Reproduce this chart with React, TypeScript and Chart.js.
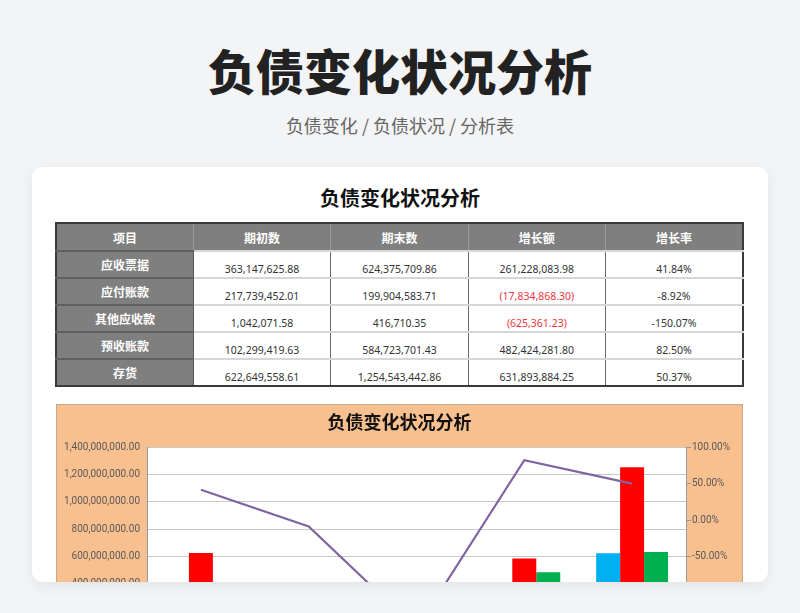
import React, { useEffect, useRef } from "react";
import { Chart, registerables } from "chart.js";

Chart.register(...registerables);

// data
const categories = ["应收票据", "应付账款", "其他应收款", "预收账款", "存货"];
const openingValues = [363147625.88, 217739452.01, 1042071.58, 102299419.63, 622649558.61];
const closingValues = [624375709.86, 199904583.71, 416710.35, 584723701.43, 1254543442.86];
const changeValues = [261228083.98, -17834868.3, -625361.23, 482424281.8, 631893884.25];
const changeRates = [41.84, -8.92, -150.07, 82.5, 50.37];
const tableHeaders = ["项目", "期初数", "期末数", "增长额", "增长率"];
const leftTicks = { min: -200000000, max: 1400000000, step: 200000000 };
const rightTicks = { min: -200, max: 100, step: 50 };

const CJK = "'Noto Sans CJK SC', 'Noto Sans', sans-serif";
const NUM = "'Noto Sans', 'Noto Sans CJK SC', sans-serif";
const TICK_FONT = "Roboto, 'Noto Sans', sans-serif";

const money = (v: number) =>
  Math.abs(v).toLocaleString("en-US", { minimumFractionDigits: 2, maximumFractionDigits: 2 });

const plotBackground = {
  id: "plotBackground",
  beforeDraw(chart: Chart) {
    const { ctx, chartArea } = chart;
    ctx.save();
    ctx.fillStyle = "#ffffff";
    ctx.fillRect(chartArea.left, chartArea.top, chartArea.width, chartArea.height);
    ctx.restore();
  },
};

const LiabilityChart: React.FC = () => {
  const canvasRef = useRef<HTMLCanvasElement | null>(null);
  const chartRef = useRef<Chart | null>(null);

  useEffect(() => {
    const ctx = canvasRef.current?.getContext("2d");
    if (!ctx) return;
    chartRef.current?.destroy();

    const tickFont = { family: TICK_FONT, size: 10 };

    chartRef.current = new Chart(ctx, {
      type: "bar",
      data: {
        labels: categories,
        datasets: [
          {
            type: "line",
            label: "增长率",
            data: changeRates,
            yAxisID: "y1",
            borderColor: "#8064A2",
            backgroundColor: "#8064A2",
            borderWidth: 2.2,
            pointRadius: 0,
            tension: 0,
            order: 0,
          },
          {
            label: "期初数",
            data: openingValues,
            backgroundColor: "#00B0F0",
            yAxisID: "y",
            order: 1,
          },
          {
            label: "期末数",
            data: closingValues,
            backgroundColor: "#FF0000",
            yAxisID: "y",
            order: 1,
          },
          {
            label: "增长额",
            data: changeValues,
            backgroundColor: "#00B050",
            yAxisID: "y",
            order: 1,
          },
        ],
      },
      options: {
        responsive: true,
        maintainAspectRatio: false,
        animation: false,
        datasets: {
          bar: { categoryPercentage: 0.667, barPercentage: 1 },
        },
        layout: { padding: { left: 0, right: 0, top: 0, bottom: 8 } },
        plugins: {
          legend: { display: false },
          tooltip: { enabled: false },
          title: {
            display: true,
            text: "负债变化状况分析",
            color: "#111111",
            font: { family: CJK, size: 18, weight: "bold" },
            padding: { top: 6, bottom: 15 },
          },
        },
        scales: {
          x: {
            grid: { display: false },
            border: { color: "#999999" },
            ticks: { font: tickFont, color: "#595959" },
            afterFit: (s: any) => {
              s.height = 30;
            },
          },
          y: {
            position: "left",
            min: leftTicks.min,
            max: leftTicks.max,
            grid: { color: "#c8c8c8", tickLength: 5 },
            border: { color: "#999999" },
            ticks: {
              stepSize: leftTicks.step,
              font: tickFont,
              color: "#595959",
              padding: 2,
              callback: (v: any) => (v < 0 ? "-" : "") + money(Number(v)),
            },
            afterFit: (s: any) => {
              s.width = 90;
            },
          },
          y1: {
            position: "right",
            min: rightTicks.min,
            max: rightTicks.max,
            grid: { drawOnChartArea: false, color: "#999999", tickLength: 5 },
            border: { color: "#999999" },
            ticks: {
              stepSize: rightTicks.step,
              font: tickFont,
              color: "#595959",
              padding: 1,
              callback: (v: any) => Number(v).toFixed(2) + "%",
            },
            afterFit: (s: any) => {
              s.width = 56;
            },
          },
        },
      },
      plugins: [plotBackground],
    });

    return () => {
      chartRef.current?.destroy();
      chartRef.current = null;
    };
  }, []);

  return (
    <div
      style={{
        position: "absolute",
        left: 24,
        top: 237,
        width: 687,
        height: 300,
        boxSizing: "border-box",
        background: "#F9C08F",
        border: "1px solid #c4a890",
      }}
    >
      <div style={{ position: "relative", width: "100%", height: "100%" }}>
        <canvas ref={canvasRef}></canvas>
      </div>
    </div>
  );
};

const headCell: React.CSSProperties = {
  background: "#7f7f7f",
  color: "#fff",
  fontWeight: 700,
  fontSize: 12,
  fontFamily: CJK,
  textAlign: "center",
  verticalAlign: "middle",
  height: 26,
  padding: 0,
  borderLeft: "1px solid #9a9a9a",
  borderBottom: "1px solid #555",
};

const labelCell: React.CSSProperties = {
  background: "#7f7f7f",
  color: "#fff",
  fontWeight: 700,
  fontSize: 12,
  fontFamily: CJK,
  textAlign: "center",
  verticalAlign: "middle",
  height: 25,
  padding: 0,
  borderTop: "2px solid #5f5f5f",
  borderRight: "1px solid #555",
};

const dataCell: React.CSSProperties = {
  color: "#333",
  fontSize: 10.5,
  fontFamily: NUM,
  textAlign: "center",
  verticalAlign: "bottom",
  padding: "0 0 1px 0",
  lineHeight: "14px",
  borderTop: "2px solid #d6d6d6",
  borderLeft: "1px solid #666",
};

const App: React.FC = () => {
  return (
    <div
      style={{
        position: "relative",
        width: 800,
        height: 613,
        overflow: "hidden",
        background: "#f3f4f6",
        fontFamily: CJK,
      }}
    >
      <style>{"body{margin:0;background:#f3f4f6;}"}</style>
      <div
        style={{
          position: "absolute",
          top: 45,
          width: "100%",
          textAlign: "center",
          fontSize: 48,
          lineHeight: "48px",
          fontWeight: 900,
          color: "#222",
        }}
      >
        负债变化状况分析
      </div>
      <div
        style={{
          position: "absolute",
          top: 116,
          width: "100%",
          textAlign: "center",
          fontSize: 18,
          lineHeight: "18px",
          color: "#666",
        }}
      >
        负债变化 / 负债状况 / 分析表
      </div>
      <div
        style={{
          position: "absolute",
          left: 32,
          top: 167,
          width: 736,
          height: 415,
          borderRadius: 10,
          background: "#fff",
          overflow: "hidden",
          boxShadow: "0 4px 14px rgba(0,0,0,0.07)",
        }}
      >
        <div
          style={{
            position: "absolute",
            top: 20,
            width: "100%",
            textAlign: "center",
            fontSize: 20,
            lineHeight: "22px",
            fontWeight: 700,
            color: "#111",
          }}
        >
          负债变化状况分析
        </div>
        <table
          style={{
            position: "absolute",
            left: 23,
            top: 55,
            width: 689,
            borderCollapse: "collapse",
            tableLayout: "fixed",
            border: "2px solid #3a3a3a",
          }}
        >
          <thead>
            <tr>
              {tableHeaders.map((h) => (
                <th key={h} style={headCell}>
                  {h}
                </th>
              ))}
            </tr>
          </thead>
          <tbody>
            {categories.map((c, i) => (
              <tr key={c}>
                <td style={labelCell}>{c}</td>
                <td style={dataCell}>{money(openingValues[i])}</td>
                <td style={dataCell}>{money(closingValues[i])}</td>
                <td style={{ ...dataCell, color: changeValues[i] < 0 ? "#f0383c" : "#333" }}>
                  {changeValues[i] < 0 ? `(${money(changeValues[i])})` : money(changeValues[i])}
                </td>
                <td style={dataCell}>{changeRates[i].toFixed(2)}%</td>
              </tr>
            ))}
          </tbody>
        </table>
        <LiabilityChart />
      </div>
    </div>
  );
};

export default App;
